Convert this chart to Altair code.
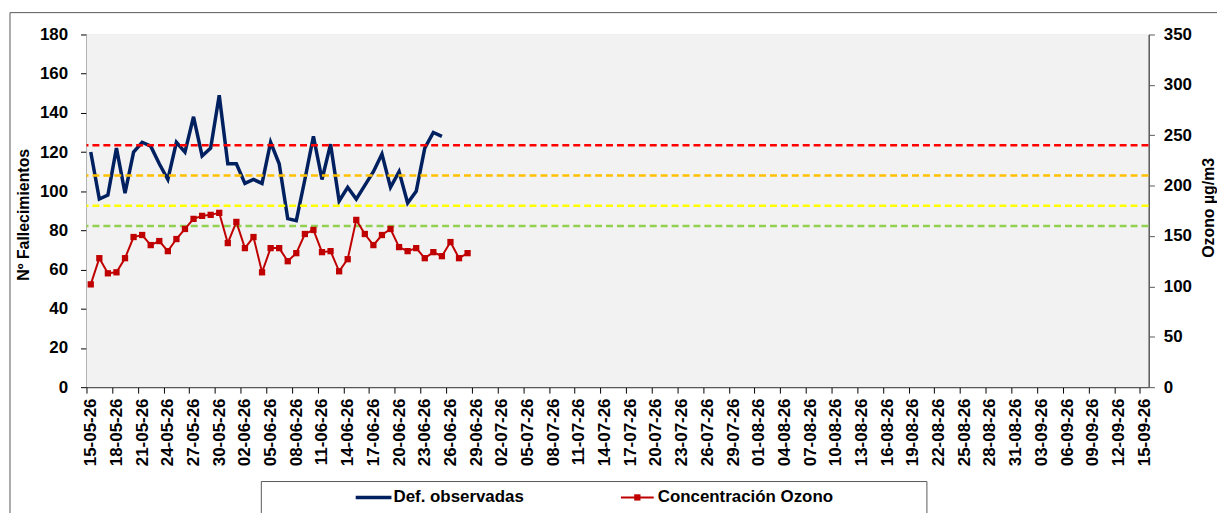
import altair as alt
import pandas as pd

# ---------------- data ----------------
start_date = "2026-05-15"
end_date = "2026-09-15"

deaths = [120, 96, 98, 122, 99, 120, 125, 123, 114, 106,
          125, 120, 138, 118, 122, 149, 114, 114, 104, 106,
          104, 125, 114, 86, 85, 106, 128, 106, 124, 95,
          102, 96, 103, 110, 119, 102, 110, 94, 100, 122,
          130, 128]

ozone = [102, 128, 113, 114, 128, 149, 151, 141, 145, 135,
         147, 157, 167, 170, 171, 173, 143, 164, 138, 149,
         114, 138, 138, 125, 133, 152, 156, 134, 135, 115,
         127, 166, 152, 141, 151, 157, 139, 135, 138, 128,
         134, 130, 144, 128, 133]

thresholds = [240, 210, 180, 160]
threshold_colors = ["#FF0000", "#FFC000", "#FFFF00", "#92D050"]

series_names = ["Def. observadas", "Concentración Ozono"]

all_days = pd.date_range(start_date, end_date, freq="D")
tick_dates = pd.date_range(start_date, end_date, freq="3D")
tick_labels = list(tick_dates.strftime("%d-%m-%y"))

start = pd.Timestamp(start_date)
df_deaths = pd.DataFrame({
    "date": pd.date_range(start_date, periods=len(deaths)),
    "deaths": deaths,
})
df_deaths["day"] = (df_deaths["date"] - start).dt.days
df_ozone = pd.DataFrame({
    "date": pd.date_range(start_date, periods=len(ozone)),
    "ozone": ozone,
})
df_ozone["day"] = (df_ozone["date"] - start).dt.days
df_thr = pd.DataFrame({"thr": thresholds, "col": threshold_colors})
df_dummy = pd.DataFrame({"a": [0]})

n_days = len(all_days)  # 124
PW, PH = 1069, 355
band = PW / n_days
FONT = "Liberation Sans"

label_array = "[" + ",".join("'" + s + "'" for s in tick_labels) + "]"

x_axis = alt.Axis(
    values=list(range(0, n_days, 3)),
    labelExpr=label_array + "[round(datum.value/3)]",
    labelAngle=270,
    labelFontSize=17,
    labelFontWeight="bold",
    labelColor="#000000",
    labelPadding=5,
    labelOverlap=False,
    labelFlush=False,
    tickSize=6,
    tickOffset=-band / 2,
    labelOffset=band / 2,
    tickColor="#000000",
    domainColor="#000000",
    grid=False,
    title=None,
)
x_scale = alt.Scale(domain=[-0.5, n_days - 0.5], nice=False, zero=False)

def xenc():
    return alt.X("day:Q", scale=x_scale, axis=x_axis)

left_axis = alt.Axis(
    orient="left",
    values=list(range(0, 181, 20)),
    title="Nº Fallecimientos",
    titleFontSize=16,
    titleFontWeight="bold",
    titleColor="#000000",
    titleAngle=270,
    titleBaseline="alphabetic",
    titleAlign="center",
    titleX=-58,
    titleY=181,
    labelFontSize=17,
    labelFontWeight="bold",
    labelColor="#000000",
    labelPadding=13,
    tickSize=6,
    tickColor="#000000",
    domainColor="#000000",
    grid=False,
)

right_axis = alt.Axis(
    orient="right",
    values=list(range(0, 351, 50)),
    title="Ozono µg/m3",
    titleFontSize=16,
    titleFontWeight="bold",
    titleColor="#000000",
    titleAngle=270,
    titleBaseline="alphabetic",
    titleAlign="center",
    titleX=65,
    titleY=174,
    labelFontSize=17,
    labelFontWeight="bold",
    labelColor="#000000",
    labelPadding=9,
    tickSize=6,
    tickColor="#595959",
    domainColor="#595959",
    domainWidth=2,
    grid=False,
)

left_scale = alt.Scale(domain=[0, 180], nice=False, zero=True)

def rscale():
    return alt.Scale(domain=[0, 350], nice=False, zero=True)

# plot background
plot_bg = alt.Chart(df_dummy).mark_rect(fill="#F2F2F2", strokeWidth=0).encode(
    x=alt.value(0), x2=alt.value(PW), y=alt.value(0), y2=alt.value(PH)
)

# outer frame
frame = alt.Chart(df_dummy).mark_rect(
    fillOpacity=0, stroke="#595959", strokeWidth=1
).encode(
    x=alt.value(-77), x2=alt.value(1400), y=alt.value(-22), y2=alt.value(700)
)

blue = alt.Chart(df_deaths).mark_line(
    color="#002060", strokeWidth=3.5
).encode(
    x=xenc(),
    y=alt.Y("deaths:Q", scale=left_scale, axis=left_axis),
)

rules = alt.Chart(df_thr).mark_rule(
    strokeDash=[7, 4], strokeWidth=2.5
).encode(
    y=alt.Y("thr:Q", scale=rscale(), axis=None),
    color=alt.Color("col:N", scale=None),
)

red_line = alt.Chart(df_ozone).mark_line(
    color="#C00000", strokeWidth=2
).encode(
    x=xenc(),
    y=alt.Y("ozone:Q", scale=rscale(), axis=right_axis),
)

red_pts = alt.Chart(df_ozone).mark_point(
    shape="square", filled=True, color="#C00000", size=40, opacity=1
).encode(
    x=xenc(),
    y=alt.Y("ozone:Q", scale=rscale(), axis=None),
)

# manual legend
LY = 466
leg_box = alt.Chart(df_dummy).mark_rect(
    fill="#FFFFFF", stroke="#595959", strokeWidth=1
).encode(
    x=alt.value(176), x2=alt.value(846), y=alt.value(450), y2=alt.value(700)
)
leg_blue = alt.Chart(df_dummy).mark_rule(color="#002060", strokeWidth=3.5).encode(
    x=alt.value(271), x2=alt.value(307), y=alt.value(LY)
)
leg_red = alt.Chart(df_dummy).mark_rule(color="#C00000", strokeWidth=2).encode(
    x=alt.value(538), x2=alt.value(571), y=alt.value(LY)
)
leg_red_pt = alt.Chart(df_dummy).mark_point(
    shape="square", filled=True, color="#C00000", size=40, opacity=1
).encode(x=alt.value(554.5), y=alt.value(LY))
leg_t1 = alt.Chart(df_dummy).mark_text(
    text=series_names[0], align="left", baseline="middle",
    fontSize=17, fontWeight="bold", font=FONT, color="#000000"
).encode(x=alt.value(309), y=alt.value(LY))
leg_t2 = alt.Chart(df_dummy).mark_text(
    text=series_names[1], align="left", baseline="middle",
    fontSize=17, fontWeight="bold", font=FONT, color="#000000"
).encode(x=alt.value(575), y=alt.value(LY))

chart = alt.layer(
    plot_bg, frame, blue, rules, red_line, red_pts,
    leg_box, leg_blue, leg_red, leg_red_pt, leg_t1, leg_t2,
).resolve_scale(
    y="independent"
).properties(
    width=PW,
    height=PH,
    padding={"left": 79, "top": 25, "right": 1217 - 79 - PW, "bottom": 505 - 25 - PH},
    autosize=alt.AutoSizeParams(type="none"),
    background="#FFFFFF",
).configure_view(
    fill="#F2F2F2", stroke="#000000", strokeWidth=1
).configure(
    font=FONT
)

chart.save("out.html", embed_options={"renderer": "svg", "actions": False})
